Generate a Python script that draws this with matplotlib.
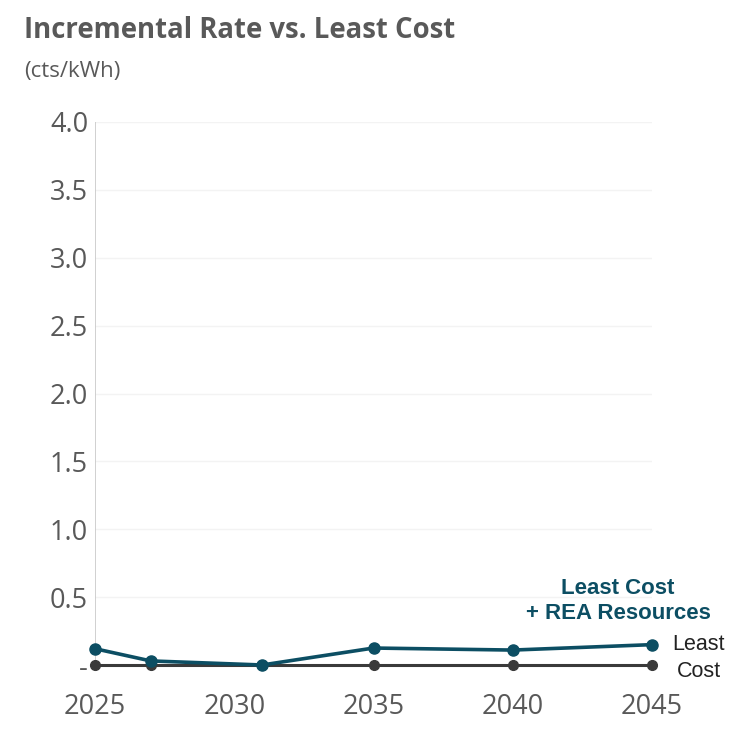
import numpy as np
import matplotlib.pyplot as plt

# Data
years = [2025, 2027, 2031, 2035, 2040, 2045]
rea_rate = [0.12, 0.03, 0.0, 0.125, 0.11, 0.15]
least_cost = [0.0, 0.0, 0.0, 0.0, 0.0, 0.0]
x_ticks = [2025, 2030, 2035, 2040, 2045]
y_ticks = [0, 0.5, 1.0, 1.5, 2.0, 2.5, 3.0, 3.5, 4.0]
y_labels = ["-", "0.5", "1.0", "1.5", "2.0", "2.5", "3.0", "3.5", "4.0"]

W, H = 731, 729
fig = plt.figure(figsize=(W / 100, H / 100), dpi=100)
# axes placed so 2025..2045 and 0..4 land where the reference has them
ax = fig.add_axes([95 / W, 1 - 665 / H, (652 - 95) / W, (665 - 122) / H])
ax.set_xlim(2025, 2045)
ax.set_ylim(0, 4)

grey = "#595959"
blue = "#0c4e63"
dark = "#3a3a3a"

ax.plot(years, least_cost, color=dark, lw=2.2, marker="o", ms=7, clip_on=False, zorder=3)
ax.plot(years, rea_rate, color=blue, lw=2.6, marker="o", ms=8, clip_on=False, zorder=4)

for s in ax.spines.values():
    s.set_visible(False)
ax.axvline(2025, color="#c8c8c8", lw=1.2, zorder=1)
ax.grid(axis="y", color="#f3f3f3", lw=1)
ax.set_axisbelow(True)

ax.set_xticks(x_ticks)
ax.set_yticks(y_ticks)
ax.set_yticklabels(y_labels)
ax.tick_params(length=0, labelcolor=grey)
ax.tick_params(axis="x", pad=20)
ax.tick_params(axis="y", pad=5)
for lab in ax.get_xticklabels() + ax.get_yticklabels():
    lab.set_fontfamily("Open Sans")
    lab.set_fontsize(19.5)

fig.text(24 / W, 1 - 31 / H, "Incremental Rate vs. Least Cost", fontsize=19.8,
         fontweight="bold", color=grey, family="Open Sans", va="center", ha="left")
fig.text(24 / W, 1 - 72 / H, "(cts/kWh)", fontsize=16, color=grey,
         family="Open Sans", va="center", ha="left")

ax.annotate("Least Cost\n+ REA Resources", xy=(years[-1], rea_rate[-1]),
            xytext=(618 / W, 1 - 601 / H), textcoords="figure fraction",
            ha="center", va="center", fontsize=16, fontweight="bold",
            color=blue, family="Liberation Sans", linespacing=1.2)
ax.annotate("Least\nCost", xy=(years[-1], least_cost[-1]),
            xytext=(699 / W, 1 - 658 / H), textcoords="figure fraction",
            ha="center", va="center", fontsize=15.5, color="#222222",
            family="Liberation Sans", linespacing=1.35)

fig.savefig("out.png", dpi=100, facecolor="white")
